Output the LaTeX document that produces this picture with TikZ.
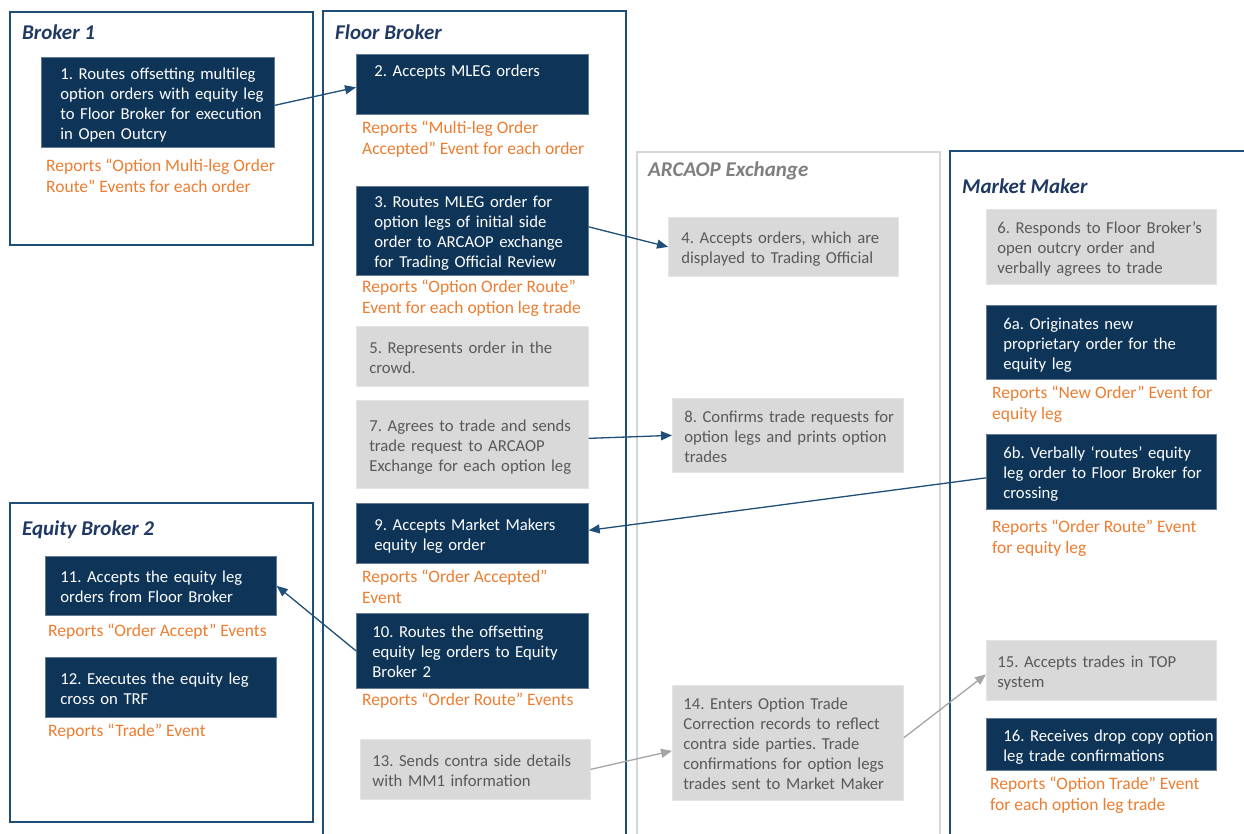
\documentclass[tikz,border=0pt]{standalone}
\usepackage{fontspec}
\setmainfont{Carlito}
\usetikzlibrary{arrows.meta}
\definecolor{navy}{HTML}{0E3458}
\definecolor{framecol}{HTML}{1F4E79}
\definecolor{titlecol}{HTML}{1F3864}
\definecolor{orangecol}{HTML}{ED7D31}
\definecolor{boxgray}{HTML}{D9D9D9}
\definecolor{txtgray}{HTML}{595959}
\definecolor{lanegray}{HTML}{D6D6D6}
\definecolor{arrowgray}{HTML}{A5A5A5}
\definecolor{exchtitle}{HTML}{7F7F7F}
\newcommand\ls[1]{\raisebox{-3pt}[\height][\depth]{\begin{tabular}{@{}l@{}}#1\end{tabular}}}
\tikzset{
  bx/.style n args={3}{inner xsep=#3, minimum height=#2,
    /utils/exec={\pgfmathsetlengthmacro\bxtw{#1-2*#3}}, text width=\bxtw},
  box/.style={anchor=north west, inner ysep=0pt, align=left,
    font=\fontsize{16.7}{20}\selectfont\frenchspacing},
  navybox/.style={box, fill=navy, draw=navy!65!white, line width=0.7pt, text=white},
  graybox/.style={box, fill=boxgray, draw=boxgray!70!white, line width=0.7pt, text=txtgray},
  report/.style={anchor=north west, inner sep=0pt, align=left, text=orangecol,
    font=\fontsize{17.5}{20.5}\selectfont\frenchspacing},
  lane/.style={draw=framecol, line width=1.6pt},
  graylane/.style={draw=lanegray, line width=1.6pt},
  lanetitle/.style={anchor=west, inner sep=0pt, text=titlecol,
    font=\fontsize{21}{22}\selectfont\bfseries\itshape},
  flow/.style={draw=framecol, line width=1.3pt, -{Triangle[length=11pt,width=9pt]}},
  grayflow/.style={draw=arrowgray, line width=1.3pt, -{Triangle[length=11pt,width=9pt]}},
}
\begin{document}
\begin{tikzpicture}[x=1pt,y=-1pt]
\useasboundingbox (0,0) rectangle (1244,833);
\clip (0,0) rectangle (1244,833);
\fill[white] (0,0) rectangle (1244,833);

% lanes
\draw[lane] (10,12) rectangle (313,245);
\draw[lane] (323,11) rectangle (626,860);
\draw[graylane] (637,152) rectangle (940,860);
\draw[lane] (950,151) rectangle (1270,860);
\draw[lane] (10,503) rectangle (313,822);

\node[lanetitle] (t1) at (22,32) {Broker 1};
\node[lanetitle] (t2) at (335,32) {Floor Broker};
\node[lanetitle, text=exchtitle] (t3) at (648,171) {ARCAOP Exchange};
\node[lanetitle] (t4) at (962,186) {Market Maker};
\node[lanetitle] (t5) at (22,530) {Equity Broker 2};

% Broker 1
\node[navybox, bx={233}{90}{19}] (b1) at (41,57) {\ls{1. Routes offsetting multileg\\option orders with equity leg\\to Floor Broker for execution\\in Open Outcry}};
\node[report] (o1) at (46,159) {Reports “Option Multi-leg Order\\Route” Events for each order};

% Floor Broker
\node[navybox, bx={232}{60}{18}] (b2) at (356,54) {\ls{2. Accepts MLEG orders\\[9pt] \mbox{}}};
\node[report] (o2) at (362,121) {Reports “Multi-leg Order\\Accepted” Event for each order};
\node[navybox, bx={232}{89}{18}] (b3) at (356,186) {\ls{3. Routes MLEG order for\\option legs of initial side\\order to ARCAOP exchange\\for Trading Official Review}};
\node[report] (o3) at (362,280) {Reports “Option Order Route”\\Event for each option leg trade};
\node[graybox, bx={232}{60}{13}] (b5) at (356,326) {\ls{5. Represents order in the\\crowd.}};
\node[graybox, bx={232}{88}{13}] (b7) at (356,400) {\ls{7. Agrees to trade and sends\\trade request to ARCAOP\\Exchange for each option leg}};
\node[navybox, bx={232}{60}{18}] (b9) at (356,503) {\ls{9. Accepts Market Makers\\equity leg order}};
\node[report] (o9) at (362,570) {Reports “Order Accepted”\\Event};
\node[navybox, bx={232}{75}{16}] (b10) at (356,613) {\ls{10. Routes the offsetting\\equity leg orders to Equity\\Broker 2}};
\node[report] (o10) at (362,693) {Reports “Order Route” Events};
\node[graybox, bx={230}{60}{12}] (b13) at (360,739) {\ls{13. Sends contra side details\\with MM1 information}};

% ARCAOP Exchange
\node[graybox, bx={230}{59}{13}] (b4) at (668,217) {\ls{4. Accepts orders, which are\\displayed to Trading Official}};
\node[graybox, bx={231}{74}{12}] (b8) at (672,398) {\ls{8. Confirms trade requests for\\option legs and prints option\\trades}};
\node[graybox, bx={231}{115}{11}] (b14) at (672,685) {\ls{14. Enters Option Trade\\Correction records to reflect\\contra side parties. Trade\\confirmations for option legs\\trades sent to Market Maker}};

% Market Maker
\node[graybox, bx={230}{75}{11}] (b6) at (986,209) {\ls{6. Responds to Floor Broker’s\\open outcry order and\\verbally agrees to trade}};
\node[navybox, bx={230}{74}{17}] (b6a) at (986,305) {\ls{6a. Originates new\\proprietary order for the\\equity leg}};
\node[report] (o6a) at (992,386) {Reports “New Order” Event for\\equity leg};
\node[navybox, bx={230}{75}{17}] (b6b) at (986,434) {\ls{6b. Verbally ‘routes’ equity\\leg order to Floor Broker for\\crossing}};
\node[report] (o6b) at (992,520) {Reports “Order Route” Event\\for equity leg};
\node[graybox, bx={230}{60}{11}] (b15) at (986,640) {\ls{15. Accepts trades in TOP\\system}};
\node[navybox, bx={230}{52}{17}] (b16) at (986,718) {\ls{16. Receives drop copy option\\leg trade confirmations}};
\node[report] (o16) at (990,777) {Reports “Option Trade” Event\\for each option leg trade};

% Equity Broker 2
\node[navybox, bx={231}{59}{15}] (b11) at (45,556) {\ls{11. Accepts the equity leg\\orders from Floor Broker}};
\node[report] (o11) at (48,624) {Reports “Order Accept” Events};
\node[navybox, bx={231}{60}{15}] (b12) at (45,657) {\ls{12. Executes the equity leg\\cross on TRF}};
\node[report] (o12) at (48,724) {Reports “Trade” Event};

% connectors
\draw[flow] ([yshift=-3pt]b1.east) -- ([yshift=-3pt]b2.west);
\draw[flow] ([yshift=4pt]b3.east) -- (b4.west);
\draw[flow] ([yshift=6pt]b7.east) -- (b8.west);
\draw[flow] ([yshift=-6pt]b6b.west) -- ([yshift=3pt]b9.east);
\draw[flow] (b10.west) -- (b11.east);
\draw[grayflow] (b13.east) -- ([yshift=-8pt]b14.west);
\draw[grayflow] ([yshift=5pt]b14.east) -- ([yshift=-4pt]b15.west);
\end{tikzpicture}
\end{document}
